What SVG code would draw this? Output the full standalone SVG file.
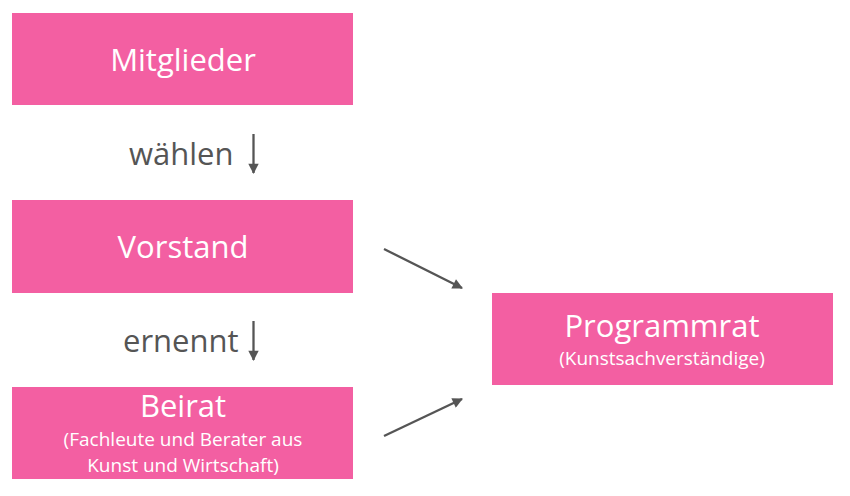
<svg xmlns="http://www.w3.org/2000/svg" width="850" height="496" viewBox="0 0 850 496">
<defs>
<style>
.box{fill:#F35FA2}
.t{font-family:"Open Sans","Noto Sans",sans-serif;fill:#fff;text-anchor:middle}
.big{font-size:31px}
.small{font-size:19px}
.lbl{font-family:"Open Sans","Noto Sans",sans-serif;fill:#555;font-size:31px}
.con{stroke:#555;stroke-width:2.3;fill:none}
</style>
<marker id="ah" viewBox="0 0 10 10" refX="9" refY="5" markerWidth="5" markerHeight="4.5" orient="auto" markerUnits="strokeWidth">
<path d="M0,0 L10,5 L0,10 z" fill="#555"/>
</marker>
</defs>
<rect width="850" height="496" fill="#fff"/>
<g id="mitglieder">
<rect class="box" x="12" y="13" width="341" height="92"/>
<text class="t big" x="183" y="71">Mitglieder</text>
</g>
<g id="vorstand">
<rect class="box" x="12" y="200" width="341" height="93"/>
<text class="t big" x="183" y="258">Vorstand</text>
</g>
<g id="beirat">
<rect class="box" x="12" y="387" width="341" height="92"/>
<text class="t big" x="183" y="417">Beirat</text>
<text class="t small" x="183" y="446">(Fachleute und Berater aus</text>
<text class="t small" x="183" y="472">Kunst und Wirtschaft)</text>
</g>
<g id="programmrat">
<rect class="box" x="492" y="293" width="341" height="92"/>
<text class="t big" x="662" y="337">Programmrat</text>
<text class="t small" x="662" y="365">(Kunstsachverständige)</text>
</g>
<g id="connectors">
<text class="lbl" x="129" y="165">wählen</text>
<line class="con" x1="253.5" y1="134" x2="253.5" y2="173" marker-end="url(#ah)"/>
<text class="lbl" x="123" y="352">ernennt</text>
<line class="con" x1="253.5" y1="321" x2="253.5" y2="360" marker-end="url(#ah)"/>
<line class="con" x1="384" y1="249" x2="462" y2="288" marker-end="url(#ah)"/>
<line class="con" x1="384" y1="436" x2="462" y2="399" marker-end="url(#ah)"/>
</g>
</svg>
